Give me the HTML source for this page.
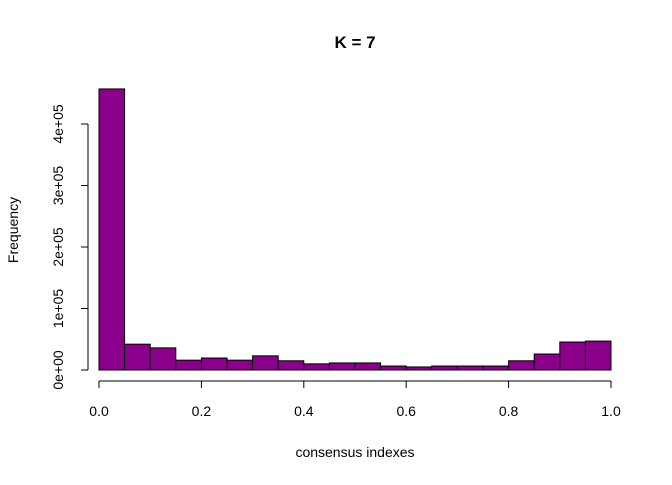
<!DOCTYPE html>
<html><head><meta charset="utf-8"><style>
body{margin:0;background:#fff}
svg text{font-family:"Liberation Sans",Arial,sans-serif;fill:#000}
</style></head><body>
<svg id="chart" width="672" height="480" xmlns="http://www.w3.org/2000/svg">
<text x="355" y="48" text-anchor="middle" font-size="17" font-weight="bold">K = 7</text>
<text x="355" y="457" text-anchor="middle" font-size="14">consensus indexes</text>
<text x="18" y="230" text-anchor="middle" font-size="14" transform="rotate(-90 18 230)">Frequency</text>
<g id="bars"></g><g id="axes"></g>
</svg>
<script>
const binEdges=[0,0.05,0.1,0.15,0.2,0.25,0.3,0.35,0.4,0.45,0.5,0.55,0.6,0.65,0.7,0.75,0.8,0.85,0.9,0.95,1.0];
const counts=[457000,42000,36000,16000,19500,16000,23000,15000,10000,11500,11500,6500,5000,6500,6500,6500,15000,26000,45500,47000];
const xTicks=[0,0.2,0.4,0.6,0.8,1.0];
const xTickLabels=["0.0","0.2","0.4","0.6","0.8","1.0"];
const yTicks=[0,100000,200000,300000,400000];
const yTickLabels=["0e+00","1e+05","2e+05","3e+05","4e+05"];
const NS="http://www.w3.org/2000/svg";
const x=v=>99+v*512;
const y=v=>370-v*61.5/100000;
const bars=document.getElementById('bars'),axes=document.getElementById('axes');
function mk(t,a,p){const e=document.createElementNS(NS,t);for(const k in a)e.setAttribute(k,a[k]);p.appendChild(e);return e;}
counts.forEach((c,i)=>{
 const r=mk('rect',{x:x(binEdges[i]),y:y(c),width:x(binEdges[i+1])-x(binEdges[i]),height:y(0)-y(c),fill:'#8b008b',stroke:'#000','stroke-width':1},bars);
 
 
});
const xl=mk('line',{x1:x(xTicks[0]),x2:x(xTicks[xTicks.length-1]),y1:381,y2:381,stroke:'#000'},axes);


xTicks.forEach((t,i)=>{
 mk('line',{x1:x(t),x2:x(t),y1:381,y2:388,stroke:'#000'},axes);
 const tx=mk('text',{x:x(t),y:416,'text-anchor':'middle','font-size':14},axes);
 tx.textContent=xTickLabels[i];
 
 
});
const yl=mk('line',{x1:88,x2:88,y1:y(yTicks[0]),y2:y(yTicks[yTicks.length-1]),stroke:'#000'},axes);


yTicks.forEach((t,i)=>{
 mk('line',{x1:81,x2:88,y1:y(t),y2:y(t),stroke:'#000'},axes);
 const tx=mk('text',{x:63,y:y(t),'text-anchor':'middle','font-size':14,transform:`rotate(-90 63 ${y(t)})`},axes);
 tx.textContent=yTickLabels[i];
 
 
});
</script>
</body></html>
